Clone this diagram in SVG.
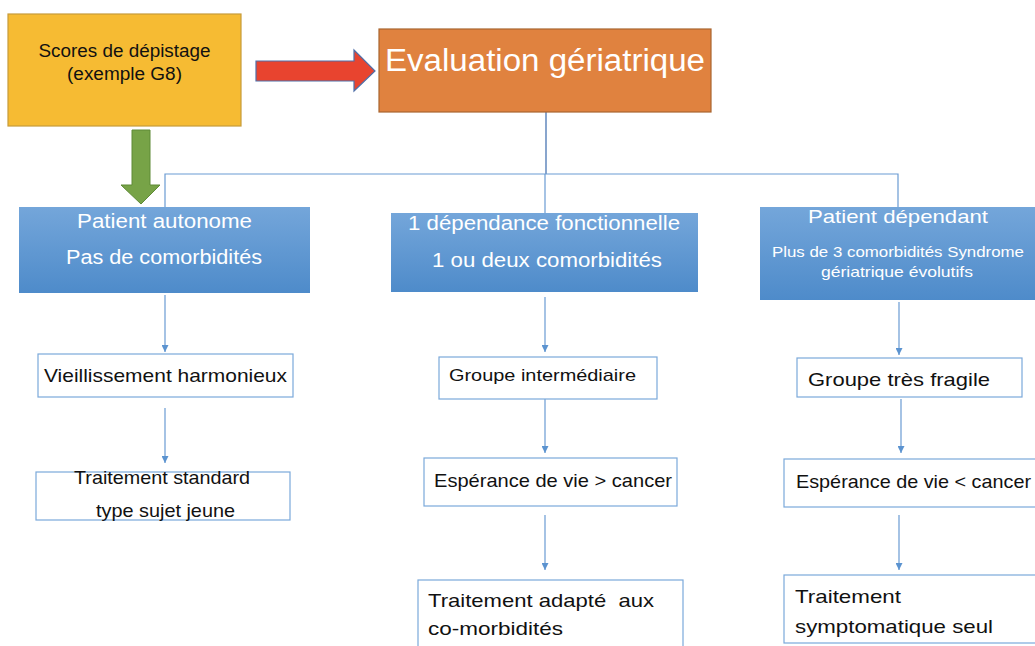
<svg xmlns="http://www.w3.org/2000/svg" width="1035" height="646" viewBox="0 0 1035 646">
<style>
text{font-family:"Liberation Sans",Arial,sans-serif}
.w{fill:#fff}
.k{fill:#111}
.bx{fill:#fff;stroke:#7BA9DA;stroke-width:1.2}
.blue{fill:url(#bg)}
.ln{stroke:#6A9BD3;stroke-width:1.2;fill:none}
.ar{stroke:#6A9BD3;stroke-width:1.2;fill:none;marker-end:url(#ah)}
</style>
<defs>
<linearGradient id="bg" x1="0" y1="0" x2="0" y2="1">
<stop offset="0" stop-color="#74A6DA"/>
<stop offset="1" stop-color="#4E8BCA"/>
</linearGradient>
<marker id="ah" viewBox="0 0 10 10" refX="10" refY="5" markerWidth="7" markerHeight="7" orient="auto" markerUnits="userSpaceOnUse">
<path d="M0,0L10,5L0,10z" fill="#5B93D0"/>
</marker>
</defs>

<g id="connectors">
<polygon points="256,61 354,61 354,50 375,71 354,91 354,81 256,81" fill="#E8442F" stroke="#4F6FA8" stroke-width="1.2"/>
<polygon points="132,130 150,130 150,185 160,185 141,204 121,185 132,185" fill="#77A347" stroke="#5E8A36" stroke-width="1"/>
<path d="M546,112V174" stroke="#4A76B3" stroke-width="1.3" fill="none"/>
<path class="ln" d="M165,207V174H898V207"/>
<path class="ln" d="M545,174V213"/>
<path class="ar" d="M165,295V352"/>
<path class="ar" d="M165,408V463"/>
<path class="ar" d="M545,297V352"/>
<path class="ar" d="M545,399V453"/>
<path class="ar" d="M545,515V570"/>
<path class="ar" d="M899,302V355"/>
<path class="ar" d="M901,399V453"/>
<path class="ar" d="M899,515V570"/>
</g>

<g id="scores">
<rect x="8" y="14" width="233" height="112" fill="#F6BB33" stroke="#C79B3A" stroke-width="1.2"/>
<text class="k" x="124.5" y="57" font-size="17.5" text-anchor="middle" textLength="172" lengthAdjust="spacingAndGlyphs">Scores de dépistage</text>
<text class="k" x="124.5" y="80" font-size="17.5" text-anchor="middle" textLength="115" lengthAdjust="spacingAndGlyphs">(exemple G8)</text>
</g>

<g id="evaluation">
<rect x="379" y="29" width="332" height="83" fill="#E0823F" stroke="#A8652F" stroke-width="1.2"/>
<text class="w" x="545" y="71" font-size="31" text-anchor="middle" textLength="320" lengthAdjust="spacingAndGlyphs">Evaluation gériatrique</text>
</g>

<g id="autonome">
<rect class="blue" x="19" y="207" width="291" height="86"/>
<text class="w" x="164.5" y="228" font-size="20" text-anchor="middle" textLength="175" lengthAdjust="spacingAndGlyphs">Patient autonome</text>
<text class="w" x="164" y="264" font-size="20" text-anchor="middle" textLength="196" lengthAdjust="spacingAndGlyphs">Pas de comorbidités</text>
</g>

<g id="dependance">
<rect class="blue" x="391" y="213" width="307" height="79"/>
<text class="w" x="544" y="230" font-size="20" text-anchor="middle" textLength="272" lengthAdjust="spacingAndGlyphs">1 dépendance fonctionnelle</text>
<text class="w" x="547" y="267" font-size="20" text-anchor="middle" textLength="230" lengthAdjust="spacingAndGlyphs">1 ou deux comorbidités</text>
</g>

<g id="dependant">
<rect class="blue" x="760" y="207" width="276" height="93"/>
<text class="w" x="898" y="223" font-size="19" text-anchor="middle" textLength="180" lengthAdjust="spacingAndGlyphs">Patient dépendant</text>
<text class="w" x="898" y="257" font-size="14.5" text-anchor="middle" textLength="252" lengthAdjust="spacingAndGlyphs">Plus de 3 comorbidités Syndrome</text>
<text class="w" x="897" y="277" font-size="14.5" text-anchor="middle" textLength="152" lengthAdjust="spacingAndGlyphs">gériatrique évolutifs</text>
</g>

<g id="vieillissement">
<rect class="bx" x="38" y="354" width="255" height="43"/>
<text class="k" x="44" y="382" font-size="19" textLength="243" lengthAdjust="spacingAndGlyphs">Vieillissement harmonieux</text>
</g>

<g id="standard">
<rect class="bx" x="36" y="472" width="254" height="48"/>
<text class="k" x="74" y="484" font-size="18.5" textLength="176" lengthAdjust="spacingAndGlyphs">Traitement standard</text>
<text class="k" x="96" y="517" font-size="18.5" textLength="139" lengthAdjust="spacingAndGlyphs">type sujet jeune</text>
</g>

<g id="intermediaire">
<rect class="bx" x="439" y="357" width="218" height="42"/>
<text class="k" x="449" y="381" font-size="17" textLength="187" lengthAdjust="spacingAndGlyphs">Groupe intermédiaire</text>
</g>

<g id="esperance-sup">
<rect class="bx" x="424" y="458" width="253" height="48"/>
<text class="k" x="434" y="487" font-size="19" textLength="238" lengthAdjust="spacingAndGlyphs">Espérance de vie &gt; cancer</text>
</g>

<g id="adapte">
<rect class="bx" x="418" y="580" width="265" height="70"/>
<text class="k" x="428" y="607" font-size="19" xml:space="preserve" style="white-space:pre" textLength="226" lengthAdjust="spacingAndGlyphs">Traitement adapté  aux</text>
<text class="k" x="428" y="635" font-size="19" textLength="135" lengthAdjust="spacingAndGlyphs">co-morbidités</text>
</g>

<g id="fragile">
<rect class="bx" x="797" y="358" width="225" height="39"/>
<text class="k" x="808" y="386" font-size="19" textLength="182" lengthAdjust="spacingAndGlyphs">Groupe très fragile</text>
</g>

<g id="esperance-inf">
<rect class="bx" x="784" y="459" width="260" height="48"/>
<text class="k" x="796" y="488" font-size="19" textLength="235" lengthAdjust="spacingAndGlyphs">Espérance de vie &lt; cancer</text>
</g>

<g id="symptomatique">
<rect class="bx" x="784" y="575" width="260" height="68"/>
<text class="k" x="795" y="603" font-size="19" textLength="106" lengthAdjust="spacingAndGlyphs">Traitement</text>
<text class="k" x="795" y="633" font-size="19" textLength="198" lengthAdjust="spacingAndGlyphs">symptomatique seul</text>
</g>
</svg>
